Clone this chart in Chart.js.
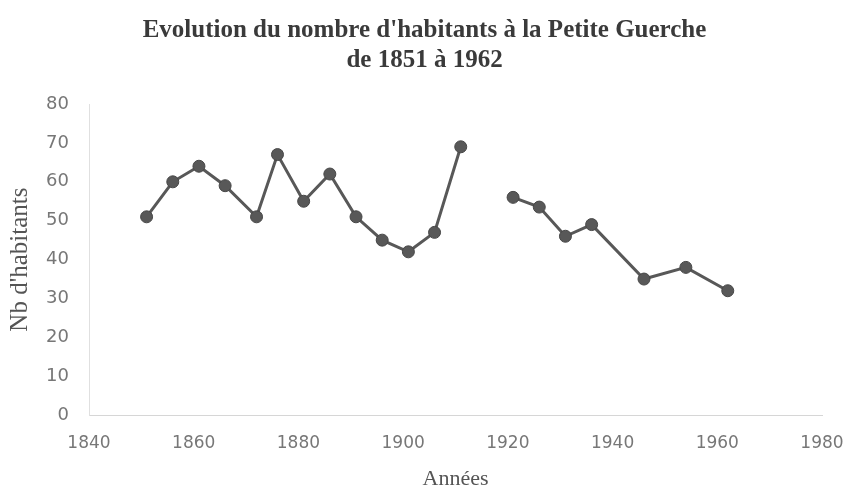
<!DOCTYPE html>
<html>
<head>
<meta charset="utf-8">
<script src="https://cdn.jsdelivr.net/npm/chart.js@4.4.0/dist/chart.umd.min.js"></script>
<style>
  html, body { margin: 0; padding: 0; background: #fff; }
  #wrap { width: 849px; height: 488px; }
</style>
</head>
<body>
<div id="wrap"><canvas id="chartHabitants"></canvas></div>
<script>
// années de recensement et nombre d'habitants (null = pas de donnée, coupe la ligne)
const years = [1851, 1856, 1861, 1866, 1872, 1876, 1881, 1886, 1891, 1896, 1901, 1906, 1911, 1916, 1921, 1926, 1931, 1936, 1946, 1954, 1962];
const habitants = [51, 60, 64, 59, 51, 67, 55, 62, 51, 45, 42, 47, 69, null, 56, 53.5, 46, 49, 35, 38, 32];
const xTicks = [1840, 1860, 1880, 1900, 1920, 1940, 1960, 1980];
const yTicks = [0, 10, 20, 30, 40, 50, 60, 70, 80];

const points = years.map((y, i) => ({ x: y, y: habitants[i] }));

const ctx = document.getElementById('chartHabitants').getContext('2d');
new Chart(ctx, {
  type: 'line',
  data: {
    datasets: [{
      label: 'Nb d\'habitants',
      data: points,
      borderColor: '#585858',
      backgroundColor: '#585858',
      borderWidth: 3,
      pointRadius: 6,
      pointBorderWidth: 1,
      pointBorderColor: '#474747',
      spanGaps: false,
      tension: 0,
    }],
  },
  options: {
    responsive: true,
    maintainAspectRatio: false,
    animation: false,
    layout: { padding: { left: 0, right: 0, top: 0, bottom: 0 } },
    plugins: {
      legend: { display: false },
      tooltip: { enabled: false },
      title: {
        display: true,
        text: ['Evolution du nombre d\'habitants à la Petite Guerche', 'de 1851 à 1962'],
        color: '#3a3a3a',
        font: { family: 'Liberation Serif', size: 25, weight: 'bold' },
        lineHeight: 0.95,
        padding: { top: 16, bottom: 28 },
      },
    },
    scales: {
      x: {
        type: 'linear',
        min: 1840,
        max: 1980,
        afterBuildTicks: (axis) => { axis.ticks = xTicks.map(v => ({ value: v })); },
        // marge droite fixe : le libellé 1980 déborde un peu comme dans l'original
        afterFit: (axis) => { axis.paddingRight = 27; },
        grid: { display: false, drawTicks: false },
        border: { color: '#d6d6d6', width: 1 },
        ticks: {
          color: '#777',
          padding: 18,
          font: { family: 'DejaVu Sans', size: 17 },
          callback: (v) => String(v),
        },
        title: {
          display: true,
          text: 'Années',
          color: '#555',
          font: { family: 'Liberation Serif', size: 22 },
          padding: { top: -6, bottom: -4 },
        },
      },
      y: {
        min: 0,
        max: 80,
        afterBuildTicks: (axis) => { axis.ticks = yTicks.map(v => ({ value: v })); },
        afterFit: (axis) => { axis.width = 89; },
        grid: { display: false, drawTicks: false },
        border: { color: '#e0e0e0', width: 1 },
        ticks: {
          color: '#777',
          padding: 20,
          font: { family: 'DejaVu Sans', size: 18 },
        },
        title: {
          display: true,
          text: 'Nb d\'habitants',
          color: '#555',
          font: { family: 'Liberation Serif', size: 25 },
          padding: { top: 5, bottom: 0 },
        },
      },
    },
  },
});
</script>
</body>
</html>
